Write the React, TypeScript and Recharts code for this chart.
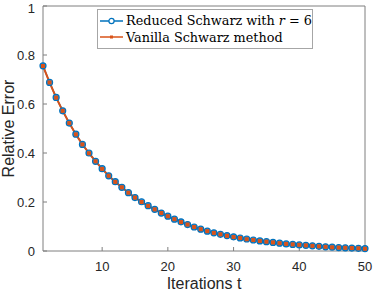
import React from 'react';
import { LineChart, Line, XAxis, YAxis, Legend } from 'recharts';

const iterations = [
  1, 2, 3, 4, 5, 6, 7, 8, 9, 10, 11, 12, 13, 14, 15, 16, 17, 18, 19, 20, 21, 22, 23, 24, 25,
  26, 27, 28, 29, 30, 31, 32, 33, 34, 35, 36, 37, 38, 39, 40, 41, 42, 43, 44, 45, 46, 47, 48, 49, 50,
];

const reducedErr = [
  0.756, 0.688, 0.627, 0.572, 0.522, 0.477, 0.435, 0.4, 0.366, 0.336,
  0.307, 0.283, 0.26, 0.238, 0.218, 0.201, 0.185, 0.17, 0.155, 0.142,
  0.13, 0.119, 0.108, 0.098, 0.089, 0.081, 0.074, 0.068, 0.063, 0.058,
  0.053, 0.049, 0.045, 0.041, 0.038, 0.035, 0.032, 0.029, 0.027, 0.025,
  0.023, 0.021, 0.019, 0.017, 0.016, 0.014, 0.013, 0.012, 0.011, 0.01,
];

const vanillaErr = [
  0.755, 0.688, 0.626, 0.572, 0.522, 0.476, 0.435, 0.399, 0.366, 0.335,
  0.307, 0.282, 0.26, 0.238, 0.218, 0.2, 0.184, 0.17, 0.155, 0.142,
  0.13, 0.118, 0.108, 0.098, 0.089, 0.081, 0.074, 0.068, 0.062, 0.057,
  0.053, 0.048, 0.045, 0.041, 0.038, 0.035, 0.032, 0.029, 0.027, 0.025,
  0.023, 0.021, 0.019, 0.017, 0.015, 0.014, 0.013, 0.012, 0.011, 0.009,
];

const xTicks = [10, 20, 30, 40, 50];
const yTicks = [0, 0.2, 0.4, 0.6, 0.8, 1];

const data = iterations.map((t, i) => ({ t, reduced: reducedErr[i], vanilla: vanillaErr[i] }));

const BLUE = '#0072BD';
const ORANGE = '#D95319';
const AXIS = '#7f7f7f';
const tickFont = { fontFamily: '"Liberation Sans", Arial, sans-serif', fontSize: 13, fill: '#262626' };

const SquareDot = (p: any) => (
  <rect key={'sq' + p.index} x={p.cx - 2} y={p.cy - 2} width={4} height={4} fill={ORANGE} />
);

const LegendBox = () => (
  <div
    style={{
      position: 'relative',
      width: 214,
      height: 38,
      border: '1px solid #a6a6a6',
      background: '#fff',
      fontFamily: '"DejaVu Serif", serif',
      fontSize: 12.8,
      color: '#000',
    }}
  >
    <div style={{ position: 'absolute', left: 1, top: 2, height: 17, display: 'flex', alignItems: 'center', whiteSpace: 'nowrap' }}>
      <svg width={25} height={10}>
        <line x1={1} y1={5} x2={24} y2={5} stroke={BLUE} strokeWidth={1.5} />
        <circle cx={12.5} cy={5} r={2.6} stroke={BLUE} strokeWidth={1.2} fill="#fff" />
      </svg>
      <span style={{ marginLeft: 2 }}>
        Reduced Schwarz with <i>r</i> = 6
      </span>
    </div>
    <div style={{ position: 'absolute', left: 1, top: 18.5, height: 17, display: 'flex', alignItems: 'center', whiteSpace: 'nowrap' }}>
      <svg width={25} height={10}>
        <line x1={1} y1={5} x2={24} y2={5} stroke={ORANGE} strokeWidth={1.5} />
        <rect x={11} y={3.5} width={3} height={3} fill={ORANGE} />
      </svg>
      <span style={{ marginLeft: 2 }}>Vanilla Schwarz method</span>
    </div>
  </div>
);

export default function App() {
  return (
    <div style={{ width: 374, height: 291, background: '#fff' }}>
      <style>{'body{margin:0}'}</style>
      <LineChart width={374} height={291} data={data} margin={{ top: 5, right: 8, bottom: 0, left: 0 }}>
        <XAxis
          dataKey="t"
          type="number"
          domain={[1, 50]}
          ticks={xTicks}
          height={40}
          tickSize={-4}
          tickMargin={15}
          stroke={AXIS}
          tick={tickFont}
          label={{
            value: 'Iterations t',
            position: 'insideBottom',
            offset: 2,
            style: { fontFamily: '"Liberation Sans", Arial, sans-serif', fontSize: 16, fill: '#262626' },
          }}
        />
        <XAxis
          xAxisId="top"
          dataKey="t"
          type="number"
          orientation="top"
          domain={[1, 50]}
          ticks={xTicks}
          height={1}
          tickSize={-4}
          tick={false}
          stroke={AXIS}
        />
        <YAxis
          type="number"
          domain={[0, 1]}
          ticks={yTicks}
          width={43}
          tickSize={-4}
          tickMargin={12}
          stroke={AXIS}
          tick={tickFont}
          label={{
            value: 'Relative Error',
            angle: -90,
            position: 'insideLeft',
            offset: 8,
            style: { textAnchor: 'middle', fontFamily: '"Liberation Sans", Arial, sans-serif', fontSize: 16, fill: '#262626' },
          }}
        />
        <YAxis
          yAxisId="right"
          type="number"
          orientation="right"
          domain={[0, 1]}
          ticks={yTicks}
          width={1}
          tickSize={-4}
          tick={false}
          stroke={AXIS}
        />
        <Legend
          layout="vertical"
          align="center"
          verticalAlign="middle"
          content={() => <LegendBox />}
          wrapperStyle={{ left: 97, top: 9, width: 216, height: 40 }}
        />
        <Line
          dataKey="reduced"
          name="Reduced Schwarz with r = 6"
          stroke={BLUE}
          strokeWidth={1.5}
          dot={{ r: 3, stroke: BLUE, strokeWidth: 1.2, fill: '#3a8ccb' }}
          isAnimationActive={false}
        />
        <Line
          dataKey="vanilla"
          xAxisId="top"
          yAxisId="right"
          name="Vanilla Schwarz method"
          stroke={ORANGE}
          strokeWidth={2}
          dot={SquareDot}
          isAnimationActive={false}
        />
      </LineChart>
    </div>
  );
}
